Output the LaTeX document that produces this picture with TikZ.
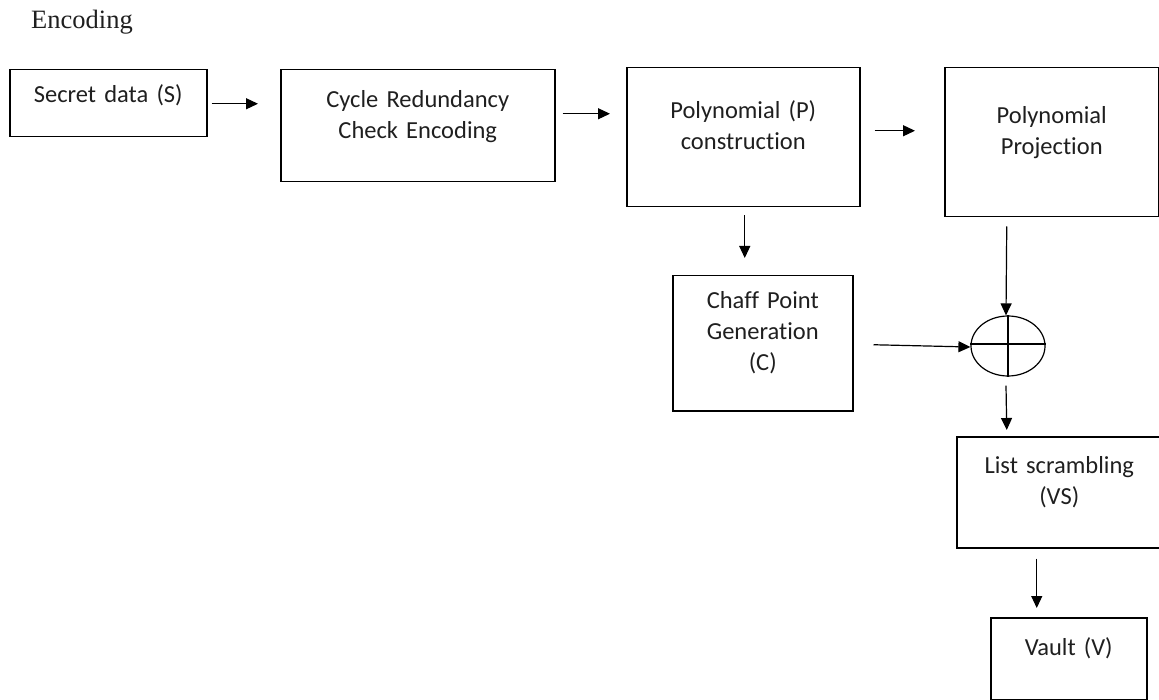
\documentclass[tikz,border=0pt]{standalone}
\usepackage{fontspec}
\setmainfont{Carlito}[Ligatures=NoCommon]
\newfontfamily\titlefont{Liberation Serif}
\usetikzlibrary{arrows.meta,calc,shapes.geometric}

\tikzset{
  blk/.style={draw, line width=1.5pt, inner sep=0pt, align=center,
    anchor=north west, font=\fontsize{24.5}{31}\selectfont, text=black!88},
  arr/.style={line width=1.2pt, -{Triangle[length=12pt,width=11pt]}},
  thin/.style={line width=1.2pt}
}

\begin{document}
\begin{tikzpicture}[x=1pt,y=-1pt]
\useasboundingbox (0,0) rectangle (1159,700);

% heading
\node[anchor=base west, inner sep=0pt, font=\titlefont\fontsize{26.5}{30}\selectfont, text=black!88]
  (title) at (31,29) {Encoding};

% processing blocks: (left,top), width, baseline offset, depth below baseline
\node[blk, text width=197pt, text height=33pt, text depth=34pt] (S) at (9,69) {Secret data (S)};
\node[blk, text width=274pt, text height=38pt, text depth=74pt] (CRC) at (280,69) {Cycle Redundancy\\Check Encoding};
\node[blk, text width=233pt, text height=51pt, text depth=88pt] (P) at (626,67) {Polynomial (P)\\construction};
\node[blk, text width=214pt, text height=56pt, text depth=93pt] (PP) at (944,67) {Polynomial\\Projection};
\node[blk, text width=180pt, text height=33pt, text depth=102pt] (C) at (672,275) {Chaff Point\\Generation\\(C)};
\node[blk, text width=205pt, text height=37pt, text depth=74pt] (LS) at (956,436) {List scrambling\\(VS)};
\node[blk, text width=156pt, text height=38pt, text depth=44pt] (V) at (990,617) {Vault (V)};

% summing junction
\node[draw, line width=1.2pt, ellipse, minimum width=74pt, minimum height=60pt, inner sep=0pt]
  (sum) at (1008,346) {};
\draw[thin] (sum.north) -- (sum.south);
\draw[thin] ($(sum.west)+(0,-2)$) -- ($(sum.east)+(0,-2)$);

% connectors
\draw[arr] ($(S.east)+(4,0.5)$) -- ($(CRC.west)+(-22,-22)$);
\draw[arr] ($(CRC.east)+(7,-12)$) -- ($(P.west)+(-16,-23.5)$);
\draw[arr] ($(P.east)+(14,-6.5)$) -- ($(PP.west)+(-29,-11.5)$);
\draw[arr] ($(P.south)+(1.5,8)$) -- ($(C.north)+(-18,-17)$);
\draw[arr] ($(PP.south)+(-45,9)$) -- ($(sum.north)+(-2,0)$);
\draw[arr] ($(C.east)+(20,1.5)$) -- ($(sum.west)+(0,1)$);
\draw[arr] ($(sum.south)+(-2,9)$) -- ($(LS.north)+(-52.5,-6)$);
\draw[arr] ($(LS.south)+(-22.5,10)$) -- ($(V.north)+(-32,-9)$);
\end{tikzpicture}
\end{document}
